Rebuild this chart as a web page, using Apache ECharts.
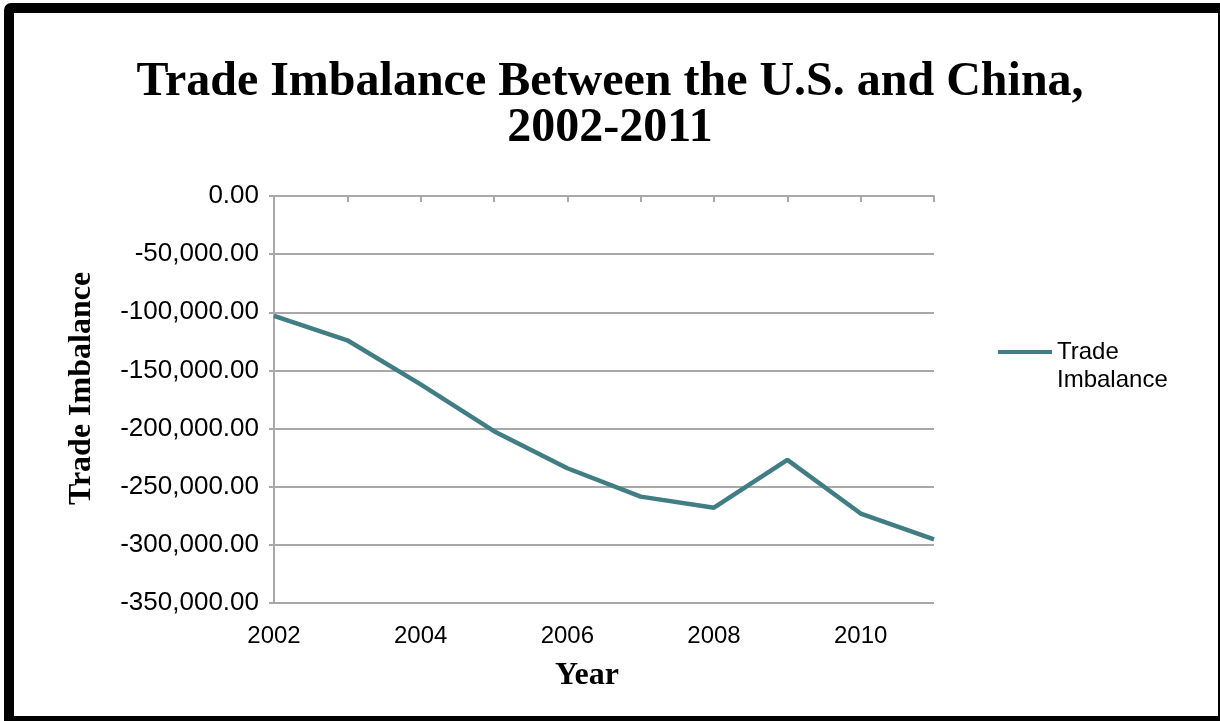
<!DOCTYPE html>
<html>
<head>
<meta charset="utf-8">
<title>Trade Imbalance Between the U.S. and China, 2002-2011</title>
<script src="https://cdn.jsdelivr.net/npm/echarts@6/dist/echarts.min.js"></script>
<style>
  html, body { margin: 0; padding: 0; background: #fff; }
  #chart { position: absolute; left: 0; top: 0; width: 1220px; height: 721px; }
  #frame {
    position: absolute; left: 4px; top: 3px; right: 0; bottom: 0;
    border-style: solid; border-color: #000;
    border-width: 10px 2px 5px 10px;
    border-top-left-radius: 7px;
    pointer-events: none;
  }
</style>
</head>
<body>
<div id="chart"></div>
<div id="frame"></div>
<script>
// years on the x axis
const years = ['2002', '2003', '2004', '2005', '2006', '2007', '2008', '2009', '2010', '2011'];
// trade balance
const tradeImbalance = [-103065, -124068, -161938, -202278, -234101, -258506, -268040, -226877, -273042, -295250];

const sans = 'Liberation Sans, Arial, sans-serif';
const serif = 'Liberation Serif, Times New Roman, serif';
const gridGray = '#a8a8a8';

let chart = echarts.init(document.getElementById('chart'));
let option = {
  animation: false,
  title: {
    text: 'Trade Imbalance Between the U.S. and China,\n2002-2011',
    left: 'center',
    top: 55,
    textStyle: {
      fontFamily: serif,
      fontWeight: 'bold',
      fontSize: 48,
      lineHeight: 46,
      color: '#000'
    }
  },
  legend: {
    left: 993,
    top: 305,
    itemWidth: 54,
    itemHeight: 4,
    icon: 'rect',
    // empty first line so the icon sits level with "Trade"
    formatter: function () { return ' \nTrade\nImbalance'; },
    textStyle: {
      fontFamily: sans,
      fontSize: 24,
      lineHeight: 28,
      color: '#000'
    }
  },
  grid: { left: 274, right: 286, top: 196, bottom: 118 },
  xAxis: [
    {
      // top axis (crosses at 0) with the tick marks
      type: 'category',
      data: years,
      position: 'top',
      boundaryGap: false,
      axisLine: { show: true, lineStyle: { color: gridGray, width: 2 } },
      axisTick: { show: true, inside: true, length: 6, interval: 0, lineStyle: { color: gridGray, width: 2 } },
      axisLabel: { show: false },
      splitLine: { show: false }
    },
    {
      // bottom axis: labels and title only
      type: 'category',
      data: years,
      position: 'bottom',
      boundaryGap: false,
      axisLine: { show: false },
      axisTick: { show: false },
      axisLabel: { interval: 1, margin: 21, fontFamily: sans, fontSize: 24, color: '#000' },
      name: 'Year',
      nameLocation: 'middle',
      nameGap: 57,
      nameTextStyle: { fontFamily: serif, fontWeight: 'bold', fontSize: 32, color: '#000', padding: [0, 34, 0, 0] }
    }
  ],
  yAxis: {
    type: 'value',
    min: -350000,
    max: 0,
    interval: 50000,
    axisLine: { show: true, lineStyle: { color: gridGray, width: 2 } },
    axisTick: { show: true, length: 5, lineStyle: { color: gridGray, width: 2 } },
    axisLabel: {
      margin: 15,
      fontFamily: sans,
      fontSize: 26,
      color: '#000',
      formatter: function (v) {
        return v.toLocaleString('en-US', { minimumFractionDigits: 2, maximumFractionDigits: 2 });
      }
    },
    splitLine: { show: true, lineStyle: { color: gridGray, width: 2 } },
    name: 'Trade Imbalance',
    nameLocation: 'middle',
    nameGap: 176,
    nameTextStyle: { fontFamily: serif, fontWeight: 'bold', fontSize: 32, color: '#000', padding: [0, 0, 0, 22] }
  },
  series: [
    {
      name: 'Trade Imbalance',
      type: 'line',
      xAxisIndex: 1,
      data: tradeImbalance,
      showSymbol: false,
      symbol: 'none',
      lineStyle: { color: '#407e83', width: 4.5 },
      itemStyle: { color: '#407e83' }
    }
  ]
};
chart.setOption(option);
</script>
</body>
</html>
